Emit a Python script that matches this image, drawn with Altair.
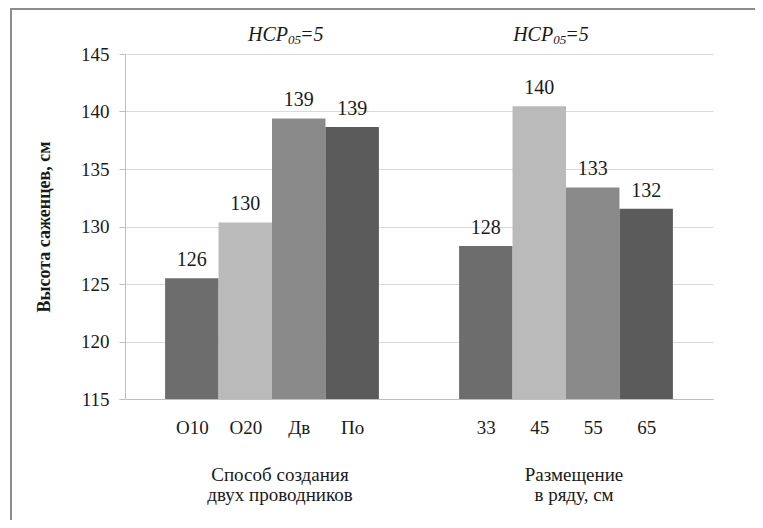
import altair as alt
import pandas as pd

# ---------------- data ----------------
categories_1 = ["О10", "О20", "Дв", "По"]
values_1 = [125.5, 130.35, 139.4, 138.65]
categories_2 = ["33", "45", "55", "65"]
values_2 = [128.3, 140.45, 133.4, 131.55]
group_titles = ["Способ создания\nдвух проводников", "Размещение\nв ряду, см"]
hcp_main = ["НСР", "НСР"]
hcp_sub = ["05", "05"]
hcp_value = ["=5", "=5"]
y_title = "Высота саженцев, см"
y_ticks = [115, 120, 125, 130, 135, 140, 145]
series_colors = ["#6d6d6d", "#bababa", "#8a8a8a", "#5b5b5b"]

# ---------------- layout (in bar-width units) ----------------
OUTER = 0.75      # Excel gap width 150 % -> half gap on each side of a cluster
GAP = 1.5
N_SER = 4
STEP = N_SER + GAP
DOMAIN_X = [0, 2 * STEP]
HCP_NUDGE = [0.30, -0.24]
FONT = "Times New Roman"
W, H = 588, 345

rows = []
centers = []
label_map = []
for g, (cats, vals) in enumerate([(categories_1, values_1), (categories_2, values_2)]):
    for i, (c, v) in enumerate(zip(cats, vals)):
        x0 = OUTER + g * STEP + i
        rows.append({"cat": c, "value": v, "series": str(i), "x0": x0,
                     "x1": x0 + 1, "xc": x0 + 0.5})
        centers.append(x0 + 0.5)
        label_map.append((x0 + 0.5, c))
df = pd.DataFrame(rows)

groups = pd.DataFrame({
    "title": group_titles,
    "xc": [OUTER + g * STEP + N_SER / 2 for g in range(2)],
    "xh": [OUTER + g * STEP + N_SER / 2 + HCP_NUDGE[g] for g in range(2)],
    "main": hcp_main, "sub": hcp_sub, "val": hcp_value,
})

label_expr = ""
for v, c in label_map:
    label_expr += f"datum.value == {v} ? '{c}' : "
label_expr += "''"

xscale = alt.Scale(domain=DOMAIN_X, nice=False, zero=False)
yscale = alt.Scale(domain=[y_ticks[0], y_ticks[-1]], nice=False, zero=False)

x_axis = alt.Axis(values=centers, labelExpr=label_expr, ticks=False, tickSize=0,
                  labelPadding=34, labelBaseline="alphabetic", labelFont=FONT,
                  labelFontSize=19, labelColor="#1a1a1a", labelOverlap=False,
                  domainColor="#bfbfbf", grid=False, title=None)
y_axis = alt.Axis(values=y_ticks, format="d", labelFont=FONT, labelFontSize=19,
                  labelColor="#1a1a1a", labelPadding=10, tickSize=6,
                  tickColor="#bfbfbf", domainColor="#bfbfbf", gridColor="#d9d9d9",
                  title=y_title, titleFont=FONT, titleFontSize=18,
                  titleFontWeight="bold", titleColor="#1a1a1a", titleX=-76,
                  titleY=H / 2, titleAngle=270, titleBaseline="alphabetic")

bars = alt.Chart(df).mark_bar().encode(
    x=alt.X("x0:Q", scale=xscale, axis=x_axis),
    x2="x1:Q",
    y=alt.Y("value:Q", scale=yscale, axis=y_axis),
    y2=alt.datum(y_ticks[0]),
    color=alt.Color("series:N", scale=alt.Scale(domain=["0", "1", "2", "3"],
                                                range=series_colors), legend=None),
)

bar_labels = alt.Chart(df).mark_text(
    baseline="alphabetic", dy=-12, font=FONT, fontSize=20, color="#1a1a1a"
).encode(
    x=alt.X("xc:Q", scale=xscale),
    y=alt.Y("value:Q", scale=yscale),
    text=alt.Text("value:Q", format=".0f"),
)

group_text = alt.Chart(groups).mark_text(
    baseline="alphabetic", lineBreak="\n", lineHeight=20, dx=8,
    font=FONT, fontSize=19, color="#1a1a1a"
).encode(x=alt.X("xc:Q", scale=xscale), y=alt.value(H + 82), text="title:N")

hcp1 = alt.Chart(groups).mark_text(
    align="right", baseline="alphabetic", font=FONT, fontSize=20,
    fontStyle="italic", color="#1a1a1a"
).encode(x=alt.X("xh:Q", scale=xscale), y=alt.value(-13), text="main:N")
hcp2 = alt.Chart(groups).mark_text(
    align="left", baseline="alphabetic", font=FONT, fontSize=13,
    fontStyle="italic", color="#1a1a1a"
).encode(x=alt.X("xh:Q", scale=xscale), y=alt.value(-10), text="sub:N")
hcp3 = alt.Chart(groups).mark_text(
    align="left", baseline="alphabetic", dx=12, font=FONT, fontSize=20,
    fontStyle="italic", color="#1a1a1a"
).encode(x=alt.X("xh:Q", scale=xscale), y=alt.value(-13), text="val:N")

frame_df = pd.DataFrame({"k": [0]})
frame_top = alt.Chart(frame_df).mark_rule(color="#8c8c8c", strokeWidth=2).encode(
    x=alt.value(-114), x2=alt.value(640), y=alt.value(-45))
frame_left = alt.Chart(frame_df).mark_rule(color="#8c8c8c", strokeWidth=2).encode(
    x=alt.value(-114), y=alt.value(-46), y2=alt.value(470))

chart = alt.layer(
    bars, bar_labels, group_text, hcp1, hcp2, hcp3, frame_top, frame_left
).properties(
    width=W, height=H,
    autosize=alt.AutoSizeParams(type="none"),
    padding={"left": 117, "top": 46, "right": 42, "bottom": 121},
    background="white",
).configure_view(strokeWidth=0)

chart.save("out.html", embed_options={"renderer": "svg", "actions": False})
